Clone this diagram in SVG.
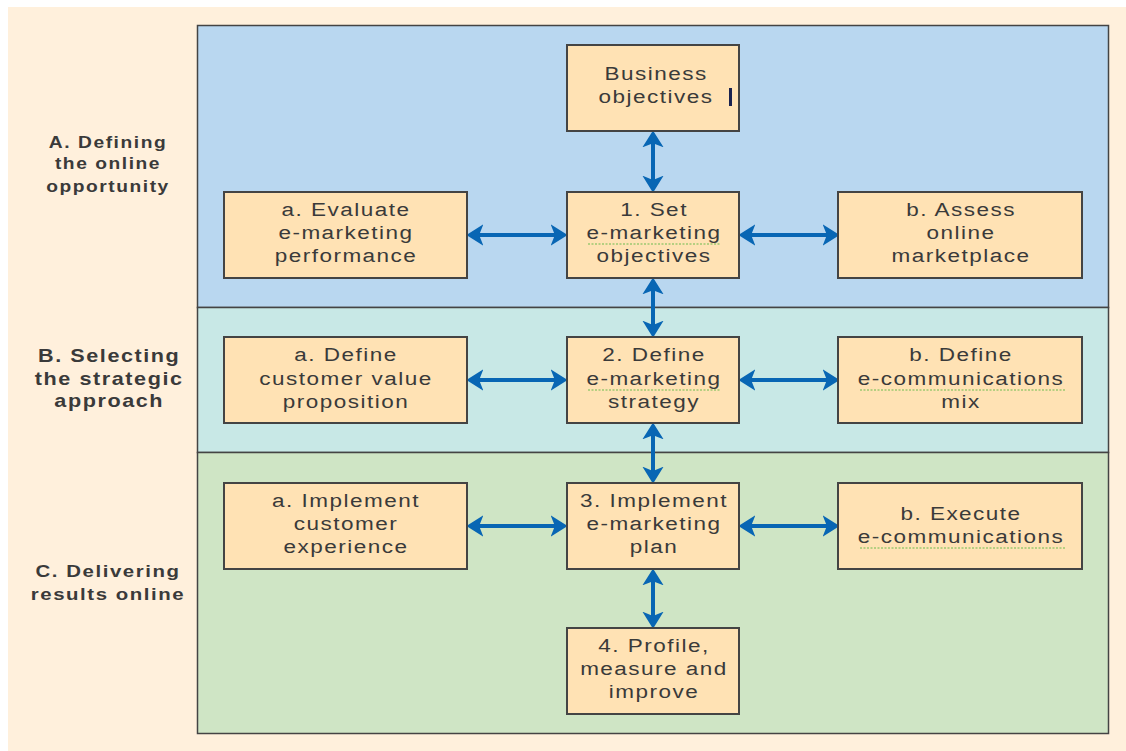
<svg xmlns="http://www.w3.org/2000/svg" width="1126" height="751" viewBox="0 0 1126 751">
<defs>
<style>
.node{fill:#FFE2B4;stroke:#444;stroke-width:2}
.t{font-family:"Liberation Sans",Arial,sans-serif;font-size:18px;fill:#3a3a3a;text-anchor:middle;letter-spacing:1.2px}
.l{font-family:"Liberation Sans",Arial,sans-serif;font-weight:bold;fill:#3a3a3a;text-anchor:middle;letter-spacing:1.3px}
.arr{stroke:#0866B4;stroke-width:4;fill:none;marker-start:url(#ah);marker-end:url(#ah)}
.sq{stroke:#6DBB4E;stroke-width:1.2;fill:none;stroke-dasharray:2 1.5}
</style>
<marker id="ah" markerUnits="userSpaceOnUse" markerWidth="17" markerHeight="22" refX="6" refY="10" orient="auto-start-reverse" viewBox="0 0 16 20">
<path d="M0,0 L16,10 L0,20 L4,10 z" fill="#0866B4"/>
</marker>
</defs>
<rect x="0" y="0" width="1126" height="751" fill="#ffffff"/>
<rect x="8" y="7" width="1118" height="744" fill="#FFF0DC"/>
<g id="bands">
<rect x="197.5" y="25.5" width="911" height="282" fill="#B9D7F0" stroke="#444" stroke-width="1.5"/>
<rect x="197.5" y="307.5" width="911" height="145" fill="#C8E8E6" stroke="#444" stroke-width="1.5"/>
<rect x="197.5" y="452.5" width="911" height="281" fill="#CFE5C5" stroke="#444" stroke-width="1.5"/>
</g>
<g id="labels" transform="matrix(1.2 0 0 1 108 0)">
<text class="l" font-size="16" x="0" y="148">A. Defining</text>
<text class="l" font-size="16" x="0" y="169">the online</text>
<text class="l" font-size="16" x="0" y="192">opportunity</text>
<text class="l" font-size="18" x="1" y="362">B. Selecting</text>
<text class="l" font-size="18" x="1" y="385">the strategic</text>
<text class="l" font-size="18" x="1" y="407">approach</text>
<text class="l" font-size="17" x="0" y="577">C. Delivering</text>
<text class="l" font-size="17" x="0" y="600">results online</text>
</g>
<g id="connectors">
<line class="arr" x1="653" y1="141" x2="653" y2="182"/>
<line class="arr" x1="653" y1="288" x2="653" y2="327"/>
<line class="arr" x1="653" y1="433" x2="653" y2="473"/>
<line class="arr" x1="653" y1="579" x2="653" y2="618"/>
<line class="arr" x1="477" y1="235" x2="557" y2="235"/>
<line class="arr" x1="749" y1="235" x2="829" y2="235"/>
<line class="arr" x1="477" y1="380" x2="557" y2="380"/>
<line class="arr" x1="749" y1="380" x2="829" y2="380"/>
<line class="arr" x1="477" y1="526" x2="557" y2="526"/>
<line class="arr" x1="749" y1="526" x2="829" y2="526"/>
</g>
<g id="n-business">
<rect class="node" x="567" y="45" width="172" height="86"/>
<g transform="matrix(1.25 0 0 1 656 0)">
<text class="t" x="0" y="80">Business</text>
<text class="t" x="0" y="103">objectives</text>
</g>
<rect x="729" y="88" width="3" height="18" fill="#1a2350"/>
</g>
<g id="n-set">
<rect class="node" x="567" y="192" width="172" height="86"/>
<g transform="matrix(1.25 0 0 1 654 0)">
<text class="t" x="0" y="216">1. Set</text>
<text class="t" x="0" y="239">e-marketing</text>
<text class="t" x="0" y="262">objectives</text>
</g>
<path class="sq" d="M588,244 H720"/>
</g>
<g id="n-evaluate">
<rect class="node" x="224" y="192" width="243" height="86"/>
<g transform="matrix(1.25 0 0 1 346 0)">
<text class="t" x="0" y="216">a. Evaluate</text>
<text class="t" x="0" y="239">e-marketing</text>
<text class="t" x="0" y="262">performance</text>
</g>
</g>
<g id="n-assess">
<rect class="node" x="838" y="192" width="244" height="86"/>
<g transform="matrix(1.25 0 0 1 961 0)">
<text class="t" x="0" y="216">b. Assess</text>
<text class="t" x="0" y="239">online</text>
<text class="t" x="0" y="262">marketplace</text>
</g>
</g>
<g id="n-strategy">
<rect class="node" x="567" y="337" width="172" height="86"/>
<g transform="matrix(1.25 0 0 1 654 0)">
<text class="t" x="0" y="361">2. Define</text>
<text class="t" x="0" y="385">e-marketing</text>
<text class="t" x="0" y="408">strategy</text>
</g>
<path class="sq" d="M588,390 H720"/>
</g>
<g id="n-cvp">
<rect class="node" x="224" y="337" width="243" height="86"/>
<g transform="matrix(1.25 0 0 1 346 0)">
<text class="t" x="0" y="361">a. Define</text>
<text class="t" x="0" y="385">customer value</text>
<text class="t" x="0" y="408">proposition</text>
</g>
</g>
<g id="n-mix">
<rect class="node" x="838" y="337" width="244" height="86"/>
<g transform="matrix(1.25 0 0 1 961 0)">
<text class="t" x="0" y="361">b. Define</text>
<text class="t" x="0" y="385">e-communications</text>
<text class="t" x="0" y="408">mix</text>
</g>
<path class="sq" d="M860,390 H1066"/>
</g>
<g id="n-plan">
<rect class="node" x="567" y="483" width="172" height="86"/>
<g transform="matrix(1.25 0 0 1 654 0)">
<text class="t" x="0" y="507">3. Implement</text>
<text class="t" x="0" y="530">e-marketing</text>
<text class="t" x="0" y="553">plan</text>
</g>
</g>
<g id="n-experience">
<rect class="node" x="224" y="483" width="243" height="86"/>
<g transform="matrix(1.25 0 0 1 346 0)">
<text class="t" x="0" y="507">a. Implement</text>
<text class="t" x="0" y="530">customer</text>
<text class="t" x="0" y="553">experience</text>
</g>
</g>
<g id="n-execute">
<rect class="node" x="838" y="483" width="244" height="86"/>
<g transform="matrix(1.25 0 0 1 961 0)">
<text class="t" x="0" y="520">b. Execute</text>
<text class="t" x="0" y="543">e-communications</text>
</g>
<path class="sq" d="M860,548 H1066"/>
</g>
<g id="n-profile">
<rect class="node" x="567" y="628" width="172" height="86"/>
<g transform="matrix(1.25 0 0 1 654 0)">
<text class="t" x="0" y="652">4. Profile,</text>
<text class="t" x="0" y="675">measure and</text>
<text class="t" x="0" y="698">improve</text>
</g>
</g>
</svg>
